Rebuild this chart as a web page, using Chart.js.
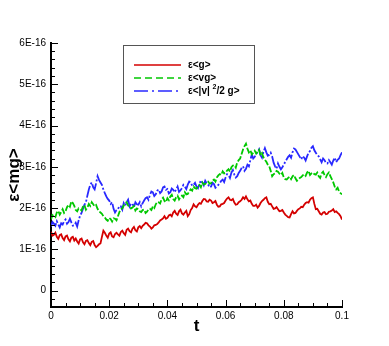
<!DOCTYPE html>
<html>
<head>
<meta charset="utf-8">
<script src="https://cdn.jsdelivr.net/npm/chart.js@4.4.1/dist/chart.umd.min.js"></script>
<style>
  html, body { margin: 0; padding: 0; background: #fff; }
  #wrap { width: 389px; height: 346px; }
</style>
</head>
<body>
<div id="wrap"><canvas id="myChart" width="389" height="346"></canvas></div>
<script>
// values are in units of 1E-16, sampled every dt in t
const dt = 0.0005;
const seriesNames = ["ε<g>", "ε<vg>", "ε<|v| ²/2 g>"];

const red = [1.42, 1.33, 1.35, 1.40, 1.30, 1.25, 1.34, 1.36, 1.27, 1.22,
  1.31, 1.33, 1.24, 1.19, 1.28, 1.30, 1.21, 1.26, 1.19, 1.14,
  1.24, 1.26, 1.17, 1.12, 1.20, 1.22, 1.15, 1.10, 1.18, 1.20,
  1.10, 1.05, 1.08, 1.12, 1.14, 1.30, 1.45, 1.40, 1.33, 1.28,
  1.38, 1.41, 1.31, 1.29, 1.37, 1.40, 1.36, 1.33, 1.42, 1.45,
  1.39, 1.35, 1.47, 1.50, 1.44, 1.41, 1.50, 1.54, 1.46, 1.43,
  1.53, 1.56, 1.51, 1.57, 1.60, 1.64, 1.63, 1.58, 1.55, 1.50,
  1.53, 1.58, 1.59, 1.61, 1.65, 1.70, 1.72, 1.75, 1.80, 1.74,
  1.76, 1.82, 1.84, 1.80, 1.89, 1.93, 1.86, 1.83, 1.92, 1.96,
  1.87, 1.84, 1.89, 1.93, 1.80, 1.85, 1.95, 2.00, 2.09, 2.04,
  2.02, 2.08, 2.12, 2.10, 2.17, 2.22, 2.21, 2.16, 2.15, 2.20,
  2.18, 2.12, 2.14, 2.17, 2.08, 2.03, 2.04, 2.09, 2.10, 2.12,
  2.18, 2.23, 2.26, 2.20, 2.19, 2.22, 2.13, 2.08, 2.09, 2.14,
  2.16, 2.20, 2.26, 2.22, 2.28, 2.21, 2.16, 2.18, 2.10, 2.05,
  2.05, 2.08, 2.01, 2.05, 2.12, 2.17, 2.20, 2.24, 2.26, 2.15,
  2.09, 2.10, 2.04, 1.98, 1.99, 2.02, 1.97, 1.92, 1.93, 1.95,
  1.89, 1.84, 1.81, 1.78, 1.77, 1.85, 1.92, 1.87, 1.88, 1.93,
  1.97, 1.99, 2.03, 2.02, 2.08, 2.12, 2.14, 2.13, 2.20, 2.24,
  2.26, 2.10, 1.97, 1.98, 1.92, 1.86, 1.84, 1.89, 1.90, 1.85,
  1.86, 1.91, 1.92, 1.94, 1.97, 1.90, 1.92, 1.88, 1.85, 1.80,
  1.72];

const green = [1.72, 1.83, 1.80, 1.78, 1.89, 1.93, 1.84, 1.90, 1.97, 1.88,
  1.92, 2.02, 2.08, 2.03, 2.16, 2.12, 2.05, 1.95, 1.92, 1.99,
  1.98, 1.94, 2.04, 2.07, 1.96, 2.01, 2.10, 2.05, 2.14, 2.09,
  2.04, 2.07, 1.98, 1.92, 1.89, 1.86, 1.80, 1.77, 1.72, 1.69,
  1.76, 1.73, 1.67, 1.75, 1.74, 1.70, 1.80, 1.90, 1.97, 1.99,
  2.06, 2.12, 2.14, 2.06, 2.05, 1.99, 2.01, 2.05, 1.94, 1.99,
  1.97, 1.92, 1.90, 1.95, 1.96, 1.88, 1.91, 1.97, 1.98, 1.95,
  2.04, 2.00, 2.09, 2.15, 2.14, 2.11, 2.21, 2.25, 2.17, 2.14,
  2.24, 2.19, 2.28, 2.32, 2.22, 2.18, 2.26, 2.30, 2.21, 2.27,
  2.30, 2.26, 2.38, 2.33, 2.34, 2.40, 2.45, 2.42, 2.52, 2.48,
  2.47, 2.53, 2.56, 2.50, 2.62, 2.57, 2.58, 2.63, 2.64, 2.59,
  2.60, 2.66, 2.69, 2.64, 2.74, 2.79, 2.82, 2.80, 2.89, 2.84,
  2.85, 2.91, 2.94, 2.88, 2.99, 3.03, 3.04, 2.98, 3.11, 3.16,
  3.20, 3.31, 3.42, 3.50, 3.56, 3.44, 3.35, 3.40, 3.30, 3.34,
  3.39, 3.32, 3.37, 3.41, 3.28, 3.33, 3.23, 3.17, 3.12, 3.05,
  3.01, 2.90, 2.77, 2.82, 2.84, 2.90, 2.88, 2.83, 2.80, 2.85,
  2.74, 2.70, 2.69, 2.73, 2.76, 2.70, 2.77, 2.80, 2.72, 2.66,
  2.69, 2.73, 2.75, 2.79, 2.82, 2.78, 2.86, 2.90, 2.80, 2.84,
  2.86, 2.82, 2.81, 2.86, 2.77, 2.73, 2.84, 2.88, 2.80, 2.75,
  2.82, 2.86, 2.77, 2.70, 2.62, 2.52, 2.45, 2.49, 2.40, 2.36,
  2.33];

const blue = [1.55, 1.66, 1.62, 1.57, 1.68, 1.60, 1.53, 1.63, 1.60, 1.68,
  1.72, 1.62, 1.66, 1.74, 1.65, 1.57, 1.58, 1.64, 1.55, 1.70,
  1.82, 1.88, 1.98, 2.08, 2.14, 2.30, 2.45, 2.56, 2.62, 2.50,
  2.45, 2.60, 2.77, 2.68, 2.62, 2.56, 2.45, 2.36, 2.28, 2.22,
  2.18, 2.10, 2.14, 1.98, 1.89, 1.95, 1.97, 2.05, 2.04, 1.96,
  2.12, 2.06, 2.14, 2.20, 2.04, 2.11, 2.10, 2.02, 2.14, 2.09,
  2.08, 2.14, 2.04, 2.12, 2.18, 2.24, 2.26, 2.20, 2.32, 2.40,
  2.38, 2.29, 2.33, 2.42, 2.45, 2.36, 2.40, 2.50, 2.52, 2.44,
  2.46, 2.35, 2.38, 2.47, 2.44, 2.38, 2.45, 2.52, 2.39, 2.43,
  2.48, 2.56, 2.52, 2.46, 2.57, 2.64, 2.62, 2.54, 2.56, 2.61,
  2.52, 2.48, 2.58, 2.67, 2.62, 2.55, 2.66, 2.60, 2.57, 2.50,
  2.52, 2.61, 2.58, 2.49, 2.52, 2.56, 2.60, 2.66, 2.69, 2.63,
  2.74, 2.82, 2.80, 2.73, 2.86, 2.92, 2.81, 2.74, 2.77, 2.85,
  2.90, 2.97, 3.01, 2.90, 2.95, 3.05, 3.01, 3.16, 3.30, 3.20,
  3.24, 3.31, 3.35, 3.42, 3.28, 3.22, 3.36, 3.45, 3.35, 3.27,
  3.29, 3.34, 3.25, 3.10, 3.01, 2.95, 3.08, 3.00, 2.94, 2.99,
  3.05, 3.12, 3.18, 3.24, 3.28, 3.22, 3.35, 3.44, 3.42, 3.36,
  3.30, 3.24, 3.18, 3.26, 3.22, 3.15, 3.25, 3.34, 3.38, 3.46,
  3.50, 3.40, 3.34, 3.28, 3.25, 3.18, 3.11, 3.20, 3.16, 3.09,
  3.08, 3.16, 3.11, 3.05, 3.15, 3.22, 3.11, 3.17, 3.20, 3.28,
  3.35];

const xTicks = [0, 0.02, 0.04, 0.06, 0.08, 0.1];
const yTicks = [0, 1, 2, 3, 4, 5, 6];

const colors = ["#d40000", "#00c800", "#2828ff"];
const dashes = [[], [7, 4], [14, 4, 2, 4]];
const lineDashes = [[], [6, 2], [12, 2, 2, 2]];

// time axis for the samples
const t = red.map((v, i) => +(i * dt).toFixed(4));

// inward ticks and the boxed legend, like the original plot
const tickPlugin = {
  id: "inTicks",
  afterDraw(chart) {
    const ctx = chart.ctx;
    const xs = chart.scales.x, ys = chart.scales.y;
    const area = chart.chartArea;
    ctx.save();
    ctx.strokeStyle = "#000";
    ctx.lineWidth = 1;
    ctx.beginPath();
    for (let k = 0; k <= 20; k++) {
      const v = k * 0.005;
      const px = Math.round(xs.getPixelForValue(v)) + 0.5;
      const len = k % 4 === 0 ? 7 : 4;
      ctx.moveTo(px, area.bottom);
      ctx.lineTo(px, area.bottom - len);
    }
    for (let k = -2; k <= 30; k++) {
      const v = k * 0.2;
      const py = Math.round(ys.getPixelForValue(v)) + 0.5;
      const len = k % 5 === 0 ? 7 : 4;
      ctx.moveTo(area.left, py);
      ctx.lineTo(area.left + len, py);
    }
    ctx.stroke();

    // legend box
    const bx = 123.5, by = 45.5, bw = 131, bh = 58;
    ctx.fillStyle = "#fff";
    ctx.fillRect(bx, by, bw, bh);
    ctx.strokeStyle = "#555";
    ctx.lineWidth = 1;
    ctx.strokeRect(bx, by, bw, bh);
    ctx.font = "bold 10px 'Liberation Sans', Arial, sans-serif";
    ctx.textBaseline = "middle";
    ctx.fillStyle = "#000";
    const rows = [65, 78, 91];
    for (let i = 0; i < 3; i++) {
      ctx.strokeStyle = colors[i];
      ctx.lineWidth = 1.5;
      ctx.setLineDash(dashes[i]);
      ctx.beginPath();
      ctx.moveTo(134, rows[i]);
      ctx.lineTo(181, rows[i]);
      ctx.stroke();
      ctx.setLineDash([]);
    }
    ctx.fillText(seriesNames[0], 188, rows[0]);
    ctx.fillText(seriesNames[1], 188, rows[1]);
    // third label with raised 2
    let lx = 188;
    const p1 = "ε<|v| ";
    ctx.fillText(p1, lx, rows[2]);
    lx += ctx.measureText(p1).width;
    ctx.font = "bold 7px 'Liberation Sans', Arial, sans-serif";
    ctx.fillText("2", lx, rows[2] - 4);
    lx += ctx.measureText("2").width;
    ctx.font = "bold 10px 'Liberation Sans', Arial, sans-serif";
    ctx.fillText("/2 g>", lx, rows[2]);
    ctx.restore();
  }
};

const ctx = document.getElementById("myChart").getContext("2d");
const myChart = new Chart(ctx, {
  type: "line",
  data: {
    labels: t,
    datasets: [red, green, blue].map((d, i) => ({
      label: seriesNames[i],
      data: d,
      borderColor: colors[i],
      borderWidth: 1.8,
      borderDash: lineDashes[i],
      pointRadius: 0,
      tension: 0,
      fill: false
    }))
  },
  options: {
    responsive: false,
    animation: false,
    devicePixelRatio: 1,
    layout: { padding: { top: 43, right: 47, bottom: 0, left: 0 } },
    plugins: { legend: { display: false }, tooltip: { enabled: false } },
    scales: {
      x: {
        type: "linear",
        min: 0,
        max: 0.1,
        afterFit: s => { s.height = 39; },
        afterBuildTicks: s => { s.ticks = xTicks.map(v => ({ value: v })); },
        grid: { display: false, drawTicks: false },
        border: { display: true, color: "#000", width: 2 },
        ticks: {
          padding: 3,
          color: "#000",
          font: { family: "'Liberation Sans', Arial, sans-serif", size: 10 },
          callback: v => String(v)
        },
        title: {
          display: true,
          text: "t",
          color: "#000",
          font: { family: "'Liberation Sans', Arial, sans-serif", size: 17, weight: "bold" },
          padding: { top: 0, bottom: 9 }
        }
      },
      y: {
        min: -0.4,
        max: 6,
        afterFit: s => { s.width = 51; },
        afterBuildTicks: s => { s.ticks = yTicks.map(v => ({ value: v })); },
        grid: { display: false, drawTicks: false },
        border: { display: true, color: "#000", width: 2 },
        ticks: {
          padding: 5,
          color: "#000",
          font: { family: "'Liberation Sans', Arial, sans-serif", size: 10 },
          callback: v => (v === 0 ? "0" : v + "E-16")
        },
        title: {
          display: true,
          text: "ε<mg>",
          color: "#000",
          font: { family: "'Liberation Sans', Arial, sans-serif", size: 17, weight: "bold" },
          padding: { top: 4, bottom: 0 }
        }
      }
    }
  },
  plugins: [tickPlugin]
});
</script>
</body>
</html>
